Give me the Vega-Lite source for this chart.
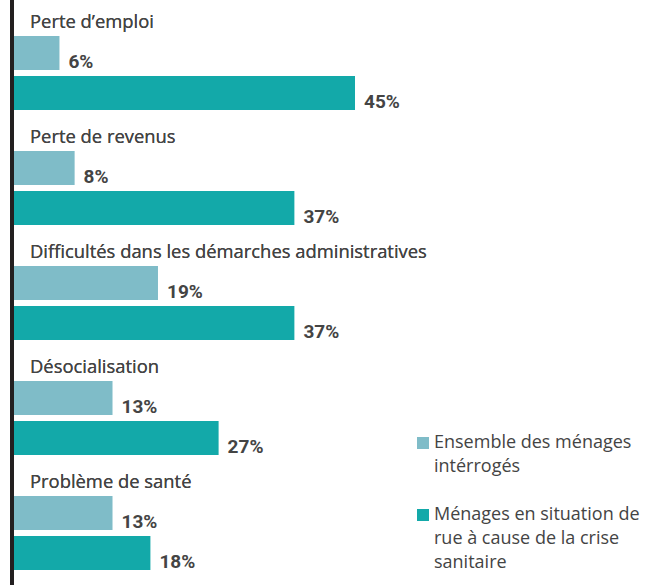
{
  "$schema": "https://vega.github.io/schema/vega-lite/v6.json",
  "width": 632,
  "height": 585,
  "autosize": "none",
  "padding": {"left": 14, "top": 0, "right": 0, "bottom": 0},
  "background": "white",
  "config": {"view": {"stroke": null}, "style": {"guide-label": {"lineHeight": 24}}},
  "data": {
    "values": [
      {"cat": "Perte d’emploi", "series": "Ensemble des ménages intérrogés", "value": 6, "label": "6%"},
      {"cat": "Perte d’emploi", "series": "Ménages en situation de rue à cause de la crise sanitaire", "value": 45, "label": "45%"},
      {"cat": "Perte de revenus", "series": "Ensemble des ménages intérrogés", "value": 8, "label": "8%"},
      {"cat": "Perte de revenus", "series": "Ménages en situation de rue à cause de la crise sanitaire", "value": 37, "label": "37%"},
      {"cat": "Difficultés dans les démarches administratives", "series": "Ensemble des ménages intérrogés", "value": 19, "label": "19%"},
      {"cat": "Difficultés dans les démarches administratives", "series": "Ménages en situation de rue à cause de la crise sanitaire", "value": 37, "label": "37%"},
      {"cat": "Désocialisation", "series": "Ensemble des ménages intérrogés", "value": 13, "label": "13%"},
      {"cat": "Désocialisation", "series": "Ménages en situation de rue à cause de la crise sanitaire", "value": 27, "label": "27%"},
      {"cat": "Problème de santé", "series": "Ensemble des ménages intérrogés", "value": 13, "label": "13%"},
      {"cat": "Problème de santé", "series": "Ménages en situation de rue à cause de la crise sanitaire", "value": 18, "label": "18%"}
    ]
  },
  "encoding": {
    "y": {"field": "cat", "type": "nominal", "sort": null, "axis": null,
          "scale": {"paddingInner": 0, "paddingOuter": 0.0435, "align": 0}}
  },
  "layer": [
    {
      "mark": {"type": "bar"},
      "encoding": {
        "yOffset": {"field": "series", "type": "nominal", "sort": null,
              "scale": {"paddingInner": 0.15, "paddingOuter": 0.5125, "align": 0.878}},
        "x": {"field": "value", "type": "quantitative", "axis": null,
              "scale": {"domain": [0, 83.4], "nice": false}},
        "color": {
          "field": "series", "type": "nominal", "sort": null,
          "scale": {"domain": ["Ensemble des ménages intérrogés", "Ménages en situation de rue à cause de la crise sanitaire"],
                    "range": ["#7fbcc8", "#13a9a9"]},
          "legend": {
            "orient": "none", "legendX": 400, "legendY": 434, "title": null,
            "symbolType": "square", "symbolSize": 144, "symbolStrokeWidth": 0,
            "labelFont": "Open Sans", "labelFontSize": 18, "labelColor": "#444444", "labelLimit": 0,
            "labelOffset": 2, "rowPadding": 30, "labelBaseline": "middle",
            "labelExpr": "datum.label == 'Ensemble des ménages intérrogés' ? ['Ensemble des ménages', 'intérrogés'] : ['Ménages en situation de', 'rue à cause de la crise', 'sanitaire']"
          }
        }
      }
    },
    {
      "mark": {"type": "text", "align": "left", "baseline": "middle", "dx": 16, "dy": -35.5, "font": "Open Sans", "fontSize": 18.4, "color": "#444444"},
      "encoding": {
        "x": {"datum": 0, "type": "quantitative"},
        "text": {"field": "cat"}
      }
    },
    {
      "mark": {"type": "text", "align": "left", "baseline": "middle", "dx": 9, "dy": 9, "font": "Roboto", "fontWeight": "bold", "fontSize": 19, "color": "#444444"},
      "encoding": {
        "yOffset": {"field": "series", "type": "nominal", "sort": null},
        "x": {"field": "value", "type": "quantitative"},
        "text": {"field": "label"}
      }
    },
    {
      "mark": {"type": "rule", "color": "#231f20", "strokeWidth": 4, "xOffset": -2},
      "encoding": {"x": {"datum": 0, "type": "quantitative"}, "y": null}
    }
  ]
}
